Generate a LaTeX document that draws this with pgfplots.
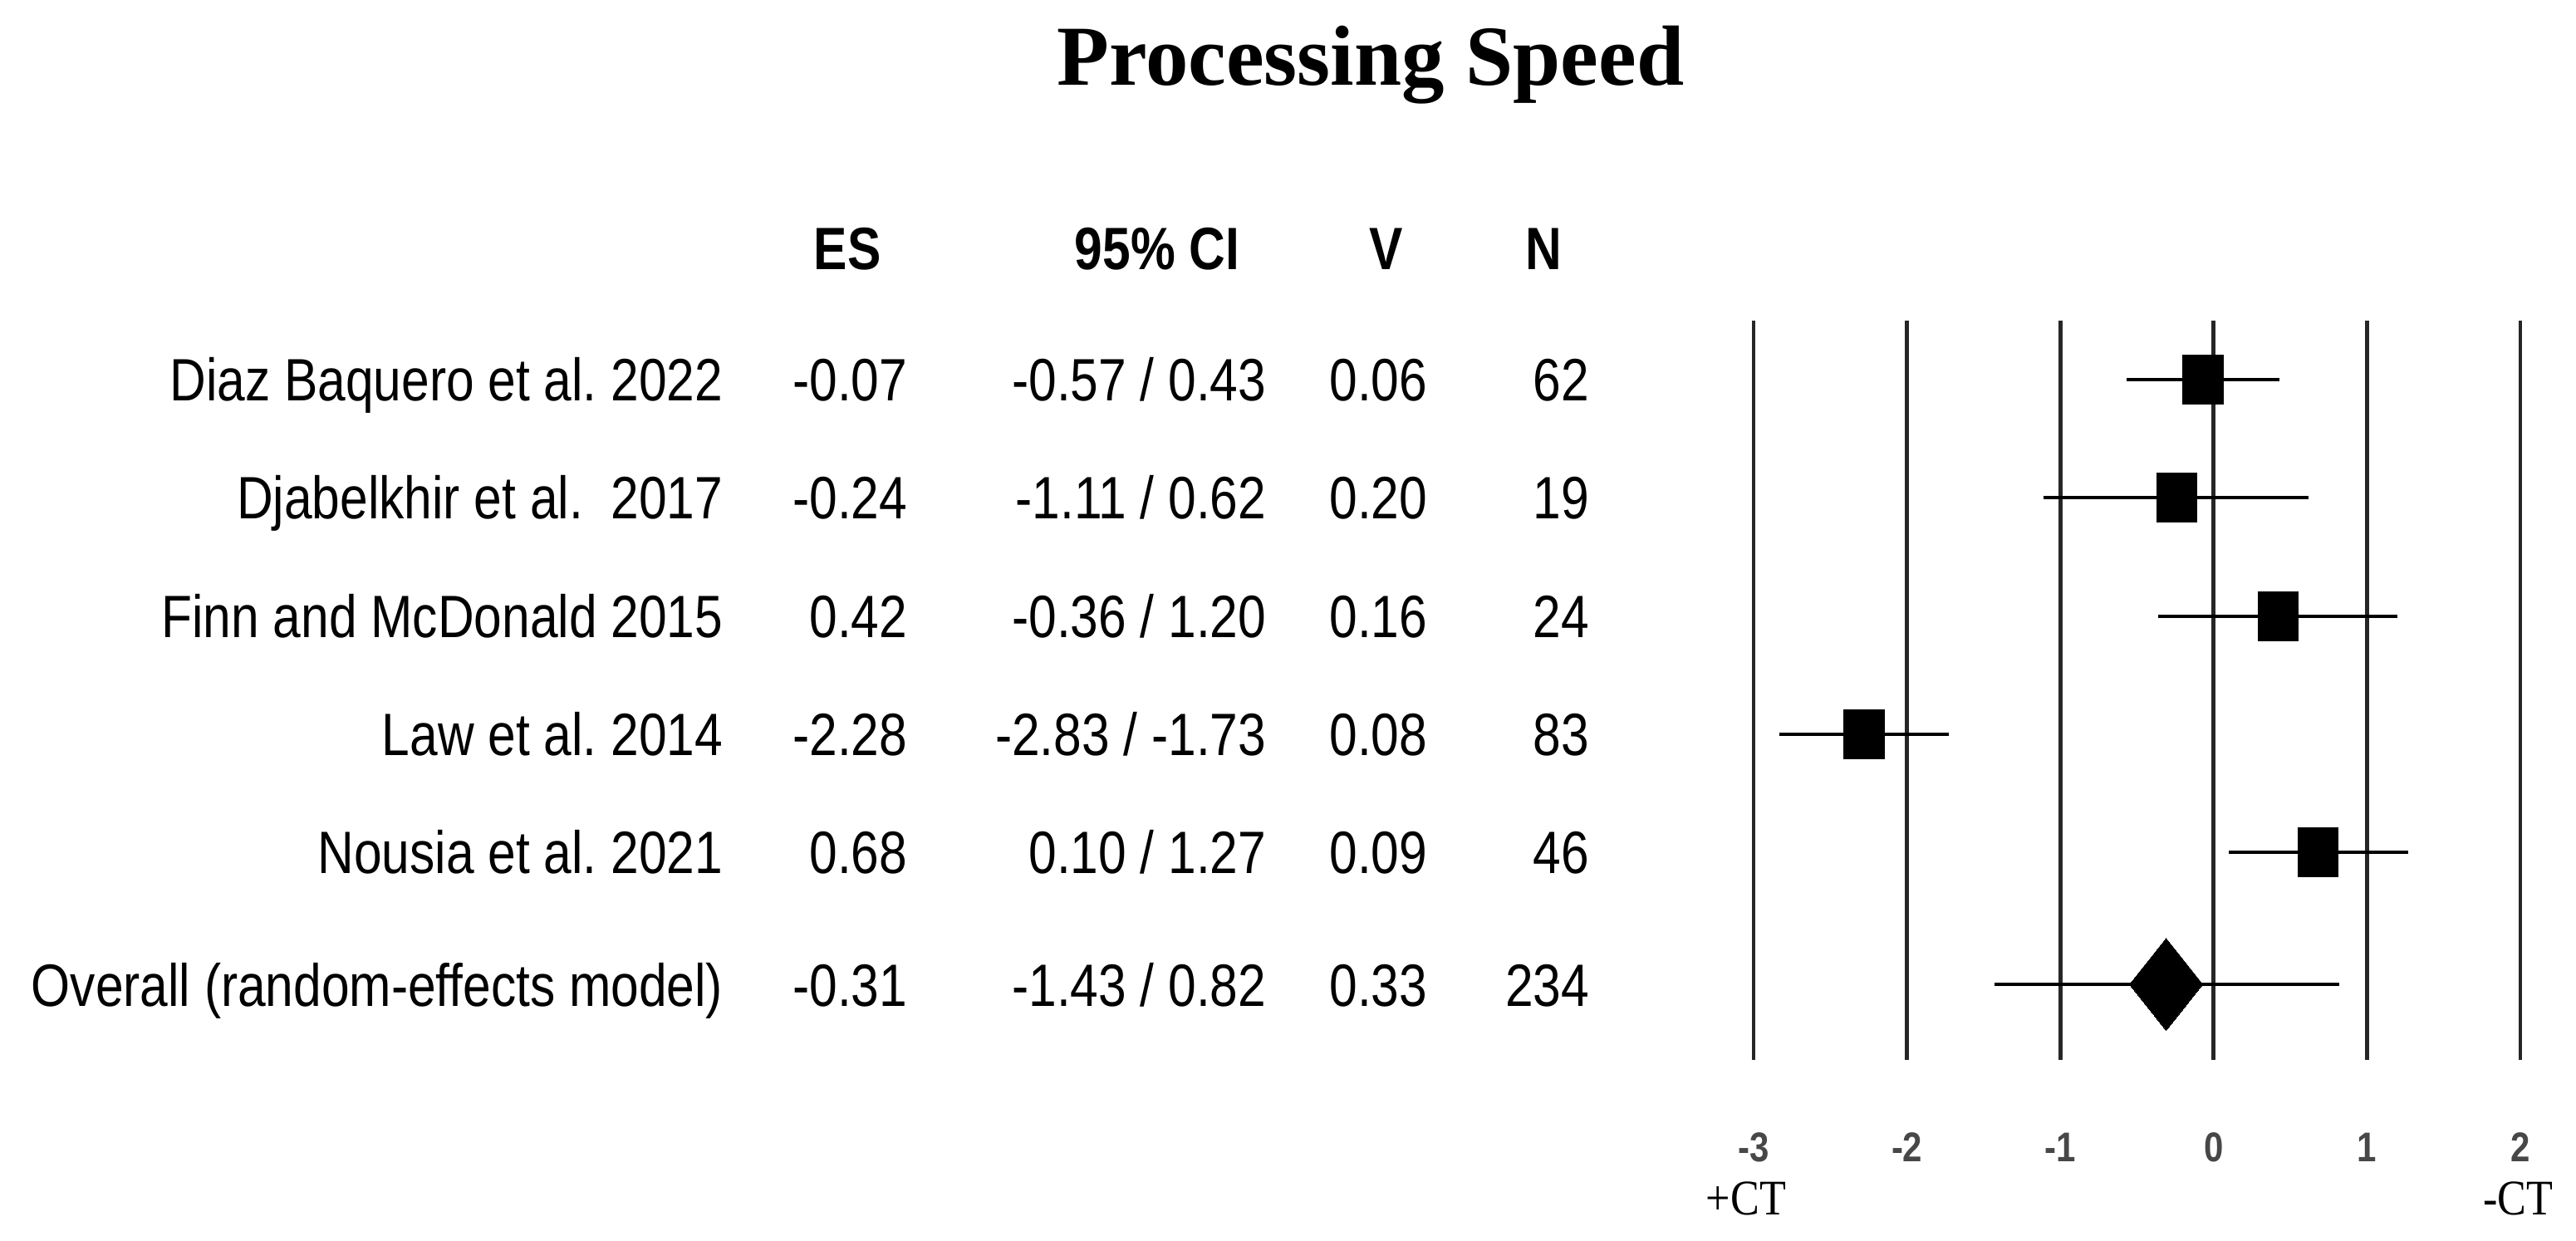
\documentclass[border=0pt]{standalone}
\usepackage{pgfplots}
\usepackage{pgfplotstable}
\usepackage{fontspec}
\pgfplotsset{compat=1.18}
\setmainfont{Liberation Sans}[FakeStretch=0.84]
\newfontfamily\titlefont{Liberation Serif}
\newfontfamily\ctfont{Liberation Serif}[FakeStretch=0.87]

% y = row centre (pixels from the top, negated)
\pgfplotstableread{
y      es     lo     hi
-457   -0.07  -0.57  0.43
-599   -0.24  -1.11  0.62
-742    0.42  -0.36  1.20
-884   -2.28  -2.83 -1.73
-1026   0.68   0.10  1.27
}\studies
\pgfplotstableread{
y      es     lo     hi
-1185  -0.31  -1.43  0.82
}\overall

% one table row: baseline, label, ES, CI, V, N
\newcommand\row[6]{%
  \node[anchor=base east] at (871,#1) {#2};
  \node[anchor=base east] at (1093,#1) {#3};
  \node[anchor=base east] at (1525,#1) {#4};
  \node[anchor=base east] at (1719,#1) {#5};
  \node[anchor=base east] at (1914,#1) {#6};
}

\begin{document}
\frenchspacing
\begin{tikzpicture}
\begin{axis}[
    at={(0,0)}, anchor=north west,
    scale only axis,
    width=775.25pt, height=373.5pt,
    xmin=-14.436, xmax=2.363,
    ymin=-1494, ymax=0,
    hide axis, clip=false,
]
\pgfplotsinvokeforeach{-3,-2,-1,0,1,2}{
  \addplot[black!85, line width=1.2pt, forget plot] coordinates {(#1,-386) (#1,-1276)};
  \node[anchor=base, inner sep=0pt, text=black!72,
        font=\fontsize{12.5}{14}\selectfont\bfseries] at (axis cs:#1,-1398) {#1};
}
\addplot[only marks, mark=square*, mark size=6.1pt,
    mark options={yscale=1.22, black, line width=0pt},
    error bars/.cd, x dir=both, x explicit, error mark=none,
    error bar style={line width=1.2pt, black}]
  table[x=es, y=y,
        x error plus expr=\thisrow{hi}-\thisrow{es},
        x error minus expr=\thisrow{es}-\thisrow{lo}] {\studies};
\addplot[only marks, mark=diamond*, mark size=13.85pt,
    mark options={xscale=1.06, black, line width=0pt},
    error bars/.cd, x dir=both, x explicit, error mark=none,
    error bar style={line width=1.2pt, black}]
  table[x=es, y=y,
        x error plus expr=\thisrow{hi}-\thisrow{es},
        x error minus expr=\thisrow{es}-\thisrow{lo}] {\overall};
\end{axis}

\begin{scope}[x=0.25pt, y=-0.25pt, every node/.style={inner sep=0pt},
              font=\fontsize{18}{20}\selectfont]
\node[anchor=base, font=\titlefont\bfseries\fontsize{25.7}{28}\selectfont]
  at (1650,103) {Processing Speed};
\begin{scope}[font=\fontsize{18}{20}\selectfont\bfseries]
\node[anchor=base] at (1020,325) {ES};
\node[anchor=base] at (1393,325) {95\% CI};
\node[anchor=base] at (1669,325) {V};
\node[anchor=base] at (1858,325) {N};
\end{scope}
\row{483}{Diaz Baquero et al. 2022}{-0.07}{-0.57 / 0.43}{0.06}{62}
\row{625}{Djabelkhir et al.\ \ 2017}{-0.24}{-1.11 / 0.62}{0.20}{19}
\row{768}{Finn and McDonald 2015}{0.42}{-0.36 / 1.20}{0.16}{24}
\row{910}{Law et al. 2014}{-2.28}{-2.83 / -1.73}{0.08}{83}
\row{1052}{Nousia et al. 2021}{0.68}{0.10 / 1.27}{0.09}{46}
\row{1211}{Overall (random-effects model)}{-0.31}{-1.43 / 0.82}{0.33}{234}
\node[anchor=base, font=\ctfont\fontsize{15}{17}\selectfont] at (2102,1462) {+CT};
\node[anchor=base, font=\ctfont\fontsize{15}{17}\selectfont] at (3031,1462) {-CT};
\end{scope}
\pgfresetboundingbox
\path (0,0) rectangle (775.25pt,-373.5pt);
\end{tikzpicture}
\end{document}
